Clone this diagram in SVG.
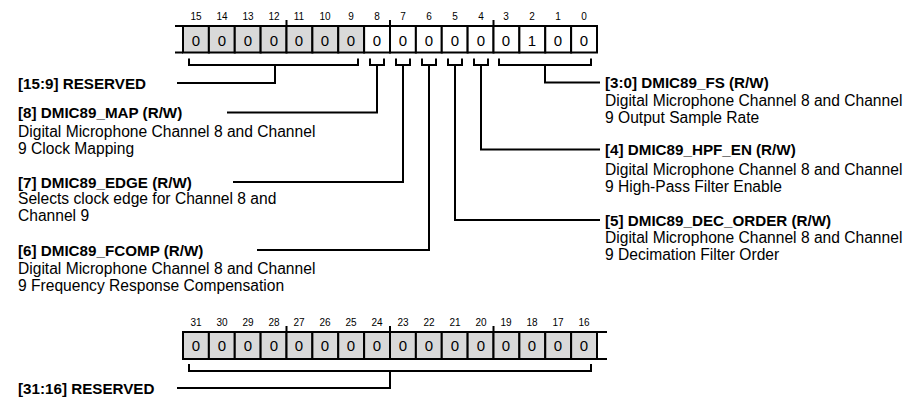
<svg xmlns="http://www.w3.org/2000/svg" width="908" height="398" viewBox="0 0 908 398">
<style>
.c{stroke:#000;stroke-width:2}
.r{fill:#d9d9d9}
.w{fill:#fff}
.v{font-family:"Liberation Sans",Arial,sans-serif;font-size:15px;text-anchor:middle}
.n{font-family:"Liberation Sans",Arial,sans-serif;font-size:10px;text-anchor:middle}
.t{font-family:"Liberation Sans",Arial,sans-serif;font-size:15.2px;font-weight:bold}
.d{font-family:"Liberation Sans",Arial,sans-serif;font-size:15.6px}
.l{fill:none;stroke:#000;stroke-width:2}
</style>
<rect width="908" height="398" fill="#fff"/>
<g id="reg-low">
<g class="n">
<text x="196" y="19.5">15</text><text x="222" y="19.5">14</text><text x="248" y="19.5">13</text><text x="274" y="19.5">12</text><text x="299" y="19.5">11</text><text x="325" y="19.5">10</text><text x="351" y="19.5">9</text><text x="377" y="19.5">8</text><text x="403" y="19.5">7</text><text x="429" y="19.5">6</text><text x="455" y="19.5">5</text><text x="481" y="19.5">4</text><text x="506" y="19.5">3</text><text x="532" y="19.5">2</text><text x="558" y="19.5">1</text><text x="584" y="19.5">0</text>
</g>
<g class="c">
<rect class="r" x="183" y="26" width="25.875" height="26.5"/>
<rect class="r" x="208.875" y="26" width="25.875" height="26.5"/>
<rect class="r" x="234.75" y="26" width="25.875" height="26.5"/>
<rect class="r" x="260.625" y="26" width="25.875" height="26.5"/>
<rect class="r" x="286.5" y="26" width="25.875" height="26.5"/>
<rect class="r" x="312.375" y="26" width="25.875" height="26.5"/>
<rect class="r" x="338.25" y="26" width="25.875" height="26.5"/>
<rect class="w" x="364.125" y="26" width="25.875" height="26.5"/>
<rect class="w" x="390" y="26" width="25.875" height="26.5"/>
<rect class="w" x="415.875" y="26" width="25.875" height="26.5"/>
<rect class="w" x="441.75" y="26" width="25.875" height="26.5"/>
<rect class="w" x="467.625" y="26" width="25.875" height="26.5"/>
<rect class="w" x="493.5" y="26" width="25.875" height="26.5"/>
<rect class="w" x="519.375" y="26" width="25.875" height="26.5"/>
<rect class="w" x="545.25" y="26" width="25.875" height="26.5"/>
<rect class="w" x="571.125" y="26" width="25.875" height="26.5"/>
<path d="M175,26H183M175,52.5H183M286.5,20V26M390,20V26M493.5,20V26" fill="none"/>
</g>
<g class="v">
<text x="196" y="45.5">0</text><text x="222" y="45.5">0</text><text x="248" y="45.5">0</text><text x="274" y="45.5">0</text><text x="299" y="45.5">0</text><text x="325" y="45.5">0</text><text x="351" y="45.5">0</text><text x="377" y="45.5">0</text><text x="403" y="45.5">0</text><text x="429" y="45.5">0</text><text x="455" y="45.5">0</text><text x="481" y="45.5">0</text><text x="506" y="45.5">0</text><text x="532" y="45.5">1</text><text x="558" y="45.5">0</text><text x="584" y="45.5">0</text>
</g>
</g>
<g id="reg-high">
<g class="n">
<text x="196" y="326">31</text><text x="222" y="326">30</text><text x="248" y="326">29</text><text x="274" y="326">28</text><text x="299" y="326">27</text><text x="325" y="326">26</text><text x="351" y="326">25</text><text x="377" y="326">24</text><text x="403" y="326">23</text><text x="429" y="326">22</text><text x="455" y="326">21</text><text x="481" y="326">20</text><text x="506" y="326">19</text><text x="532" y="326">18</text><text x="558" y="326">17</text><text x="584" y="326">16</text>
</g>
<g class="c">
<rect class="r" x="183" y="332" width="25.875" height="27"/>
<rect class="r" x="208.875" y="332" width="25.875" height="27"/>
<rect class="r" x="234.75" y="332" width="25.875" height="27"/>
<rect class="r" x="260.625" y="332" width="25.875" height="27"/>
<rect class="r" x="286.5" y="332" width="25.875" height="27"/>
<rect class="r" x="312.375" y="332" width="25.875" height="27"/>
<rect class="r" x="338.25" y="332" width="25.875" height="27"/>
<rect class="r" x="364.125" y="332" width="25.875" height="27"/>
<rect class="r" x="390" y="332" width="25.875" height="27"/>
<rect class="r" x="415.875" y="332" width="25.875" height="27"/>
<rect class="r" x="441.75" y="332" width="25.875" height="27"/>
<rect class="r" x="467.625" y="332" width="25.875" height="27"/>
<rect class="r" x="493.5" y="332" width="25.875" height="27"/>
<rect class="r" x="519.375" y="332" width="25.875" height="27"/>
<rect class="r" x="545.25" y="332" width="25.875" height="27"/>
<rect class="r" x="571.125" y="332" width="25.875" height="27"/>
<path d="M597,332H607M597,359H607M286.5,326V332M390,326V332M493.5,326V332" fill="none"/>
</g>
<g class="v">
<text x="196" y="351">0</text><text x="222" y="351">0</text><text x="248" y="351">0</text><text x="274" y="351">0</text><text x="299" y="351">0</text><text x="325" y="351">0</text><text x="351" y="351">0</text><text x="377" y="351">0</text><text x="403" y="351">0</text><text x="429" y="351">0</text><text x="455" y="351">0</text><text x="481" y="351">0</text><text x="506" y="351">0</text><text x="532" y="351">0</text><text x="558" y="351">0</text><text x="584" y="351">0</text>
</g>
</g>
<g id="connectors" class="l">
<path d="M189,58.5V65H358V58.5M275,65V83H177"/>
<path d="M370,58.5V65H384V58.5M377,65V112.5H227"/>
<path d="M396,58.5V65H410V58.5M403,65V182H233"/>
<path d="M422,58.5V65H436V58.5M429,65V250H257"/>
<path d="M448,58.5V65H462V58.5M455,65V220H600"/>
<path d="M474,58.5V65H488V58.5M481,65V149.5H600"/>
<path d="M499,58.5V65H591V58.5M545,65V82.5H600"/>
<path d="M189,364V371H591V364M390,371V388H177"/>
</g>
<g id="f-15-9"><text class="t" x="18" y="88.5">[15:9] RESERVED</text></g>
<g id="f-8"><text class="t" x="18" y="118">[8] DMIC89_MAP (R/W)</text><text class="d" x="18" y="137">Digital Microphone Channel 8 and Channel</text><text class="d" x="18" y="154">9 Clock Mapping</text></g>
<g id="f-7"><text class="t" x="18" y="187.5">[7] DMIC89_EDGE (R/W)</text><text class="d" x="18" y="204">Selects clock edge for Channel 8 and</text><text class="d" x="18" y="221">Channel 9</text></g>
<g id="f-6"><text class="t" x="18" y="255.5">[6] DMIC89_FCOMP (R/W)</text><text class="d" x="18" y="274">Digital Microphone Channel 8 and Channel</text><text class="d" x="18" y="291">9 Frequency Response Compensation</text></g>
<g id="f-3-0"><text class="t" x="605" y="88">[3:0] DMIC89_FS (R/W)</text><text class="d" x="605" y="105.5">Digital Microphone Channel 8 and Channel</text><text class="d" x="605" y="122.5">9 Output Sample Rate</text></g>
<g id="f-4"><text class="t" x="605" y="155">[4] DMIC89_HPF_EN (R/W)</text><text class="d" x="605" y="174.5">Digital Microphone Channel 8 and Channel</text><text class="d" x="605" y="191.5">9 High-Pass Filter Enable</text></g>
<g id="f-5"><text class="t" x="605" y="225.5">[5] DMIC89_DEC_ORDER (R/W)</text><text class="d" x="605" y="242.5">Digital Microphone Channel 8 and Channel</text><text class="d" x="605" y="259.5">9 Decimation Filter Order</text></g>
<g id="f-31-16"><text class="t" x="18" y="393.5">[31:16] RESERVED</text></g>
</svg>
